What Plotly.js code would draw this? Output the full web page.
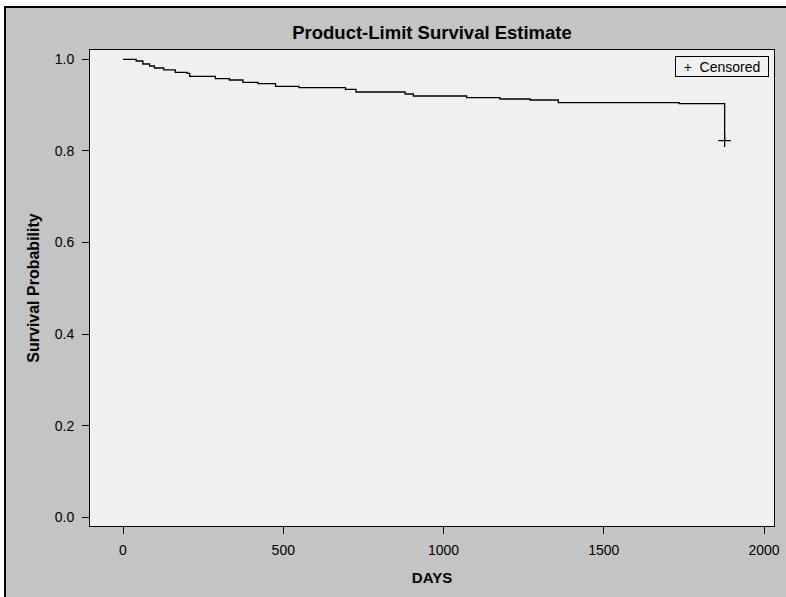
<!DOCTYPE html>
<html>
<head>
<meta charset="utf-8">
<script src="https://cdn.plot.ly/plotly-3.0.1.min.js"></script>
<style>
  html, body { margin: 0; padding: 0; background: #ffffff; width: 786px; height: 597px; overflow: hidden; }
  #frame { position: absolute; left: 4px; top: 6px; width: 780px; height: 589px;
           border-left: 2px solid #000; border-top: 2px solid #000; background: #c4c4c4; }
  #chart { width: 780px; height: 589px; }
</style>
</head>
<body>
<div id="frame"><div id="chart"></div></div>
<script>
// Kaplan-Meier step points (time in days, survival probability)
const days = [0, 41, 62, 83, 98, 127, 163, 200, 208, 288, 332, 374, 421, 476, 549, 694, 727, 880, 906, 1072, 1176, 1270, 1358, 1735, 1877];
const survival = [1.0, 0.9963, 0.9897, 0.9854, 0.9810, 0.9767, 0.9716, 0.9694, 0.9629, 0.9577, 0.9548, 0.9498, 0.9467, 0.9410, 0.9380, 0.9345, 0.9286, 0.9242, 0.9199, 0.9162, 0.9133, 0.9111, 0.9053, 0.9031, 0.8223];
// Censored observations
const censoredDays = [1877];
const censoredSurvival = [0.8223];
const xTicks = [0, 500, 1000, 1500, 2000];
const yTicks = [0.0, 0.2, 0.4, 0.6, 0.8, 1.0];
const legendLabel = 'Censored';

const FONT = "Liberation Sans, Arial, sans-serif";

const traces = [
  {
    x: days, y: survival, type: 'scatter', mode: 'lines',
    line: { shape: 'hv', color: '#000000', width: 1.3 },
    showlegend: false, hoverinfo: 'x+y'
  },
  {
    x: censoredDays, y: censoredSurvival, type: 'scatter', mode: 'markers',
    name: legendLabel,
    marker: { symbol: 'cross-thin', size: 9, color: '#000000', line: { color: '#000000', width: 1.2 } },
    showlegend: false
  }
];

const layout = {
  width: 780, height: 589,
  margin: { l: 84, r: 12, t: 42, b: 71 },
  paper_bgcolor: '#c4c4c4',
  plot_bgcolor: '#f0f0f0',
  font: { family: FONT, color: '#000000', size: 14 },
  title: {
    text: '<b>Product-Limit Survival Estimate</b>',
    font: { family: FONT, size: 18.5, color: '#000000' },
    xref: 'paper', x: 0.5, xanchor: 'center',
    yref: 'container', y: 1 - 25/589, yanchor: 'middle'
  },
  xaxis: {
    range: [-103, 2031],
    tickvals: xTicks, ticktext: xTicks.map(String),
    ticks: 'outside', ticklen: 7, tickwidth: 1, tickcolor: '#000',
    showline: true, mirror: true, linecolor: '#000', linewidth: 1,
    showgrid: false, zeroline: false,
    tickfont: { family: FONT, size: 14 },
    ticklabelstandoff: 4,
    title: { text: '<b>DAYS</b>', font: { family: FONT, size: 15 }, standoff: 15 }
  },
  yaxis: {
    range: [-0.019, 1.0203],
    tickvals: yTicks, ticktext: yTicks.map(v => v.toFixed(1)),
    ticks: 'outside', ticklen: 7, tickwidth: 1, tickcolor: '#000',
    showline: true, mirror: true, linecolor: '#000', linewidth: 1,
    showgrid: false, zeroline: false,
    tickfont: { family: FONT, size: 14 },
    ticklabelstandoff: 5,
    title: { text: '<b>Survival Probability</b>', font: { family: FONT, size: 16 }, standoff: 11 }
  },
  annotations: [{
    xref: 'paper', yref: 'paper', x: 0.9927, y: 0.987, xanchor: 'right', yanchor: 'top',
    text: '+  ' + legendLabel, showarrow: false,
    width: 90, height: 17, align: 'center',
    font: { family: FONT, size: 14, color: '#000' },
    bgcolor: '#f0f0f0', bordercolor: '#000', borderwidth: 1, borderpad: 1
  }],
  showlegend: false
};

Plotly.newPlot('chart', traces, layout, { displayModeBar: false, staticPlot: true });
</script>
</body>
</html>
